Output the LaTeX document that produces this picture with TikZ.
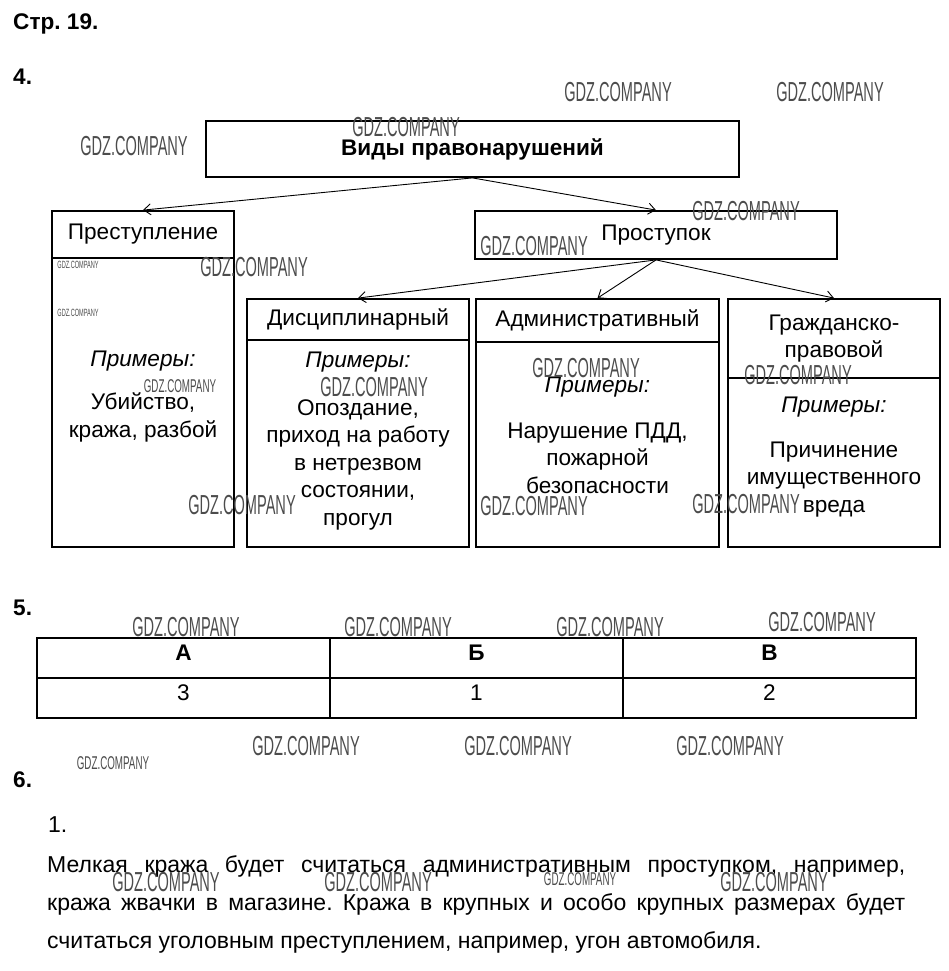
\documentclass[tikz,border=0pt]{standalone}
\usepackage{fontspec}
\setmainfont{Liberation Sans}
\newfontfamily\wmfont[FakeStretch=0.53]{Liberation Sans}
\usetikzlibrary{arrows.meta}
\newcommand{\txtsize}{\fontsize{22.6}{27.5}\selectfont}
\newcommand{\parsize}{\fontsize{23}{38}\selectfont}
\frenchspacing

\begin{document}
\begin{tikzpicture}[
  x=1pt,y=-1pt,
  >={Straight Barb[length=7pt,width=11pt]},
  txt/.style={font=\txtsize,inner sep=0pt},
  hd/.style={font=\txtsize\bfseries,inner sep=0pt,anchor=base west},
  box/.style={draw,line width=1.8pt,inner sep=0pt,align=center,font=\txtsize},
  prim/.style={font=\txtsize\itshape,inner sep=0pt,anchor=base},
  ex/.style={txt,align=center,anchor=base},
  arr/.style={->,line width=0.9pt},
  cell/.style={draw,line width=1.1pt,inner sep=0pt,minimum width=293,
               minimum height=40,font=\txtsize,text height=15pt,text depth=11pt},
  line/.style={font=\parsize,inner sep=0pt,anchor=base west},
  wm/.style={font=\wmfont\fontsize{27.5}{27.5}\selectfont,inner sep=0pt,text=black!70},
  wmmid/.style={wm,font=\wmfont\fontsize{18.5}{18.5}\selectfont},
  wmsmall/.style={wm,font=\wmfont\fontsize{10.5}{10.5}\selectfont},
]
\useasboundingbox (0,0) rectangle (949,971);

%% ── Headings ───────────────────────────────────────────────────────────────
\node[hd] (page) at (13,30) {Стр. 19.};
\node[hd] (task4) at (13,85) {4.};

%% ── Top box ───────────────────────────────────────────────────────────────
\node[box,minimum width=533,minimum height=56,font=\txtsize\bfseries] (vidy)
  at (472.5,149) {Виды правонарушений};

%% ── Second row ────────────────────────────────────────────────────────────
\node[box,minimum width=182,minimum height=47] (prest) at (143,234.5) {Преступление};
\node[box,minimum width=182,minimum height=289] (prestbody) at (143,402.5) {};
\node[box,minimum width=362,minimum height=48] (prost) at (656,235) {Проступок};

%% ── Kinds of misdemeanour ─────────────────────────────────────────────────
\node[box,minimum width=222,minimum height=41] (disc) at (358,319.5) {Дисциплинарный};
\node[box,minimum width=222,minimum height=207] (discbody) at (358,443.5) {};
\node[box,minimum width=243,minimum height=43] (admin) at (597.5,320.5) {Административный};
\node[box,minimum width=243,minimum height=205] (adminbody) at (597.5,444.5) {};
\node[box,minimum width=212,minimum height=79] (grazh) at (834,338.5)
  {Гражданско-\\правовой};
\node[box,minimum width=212,minimum height=169] (grazhbody) at (834,462.5) {};

%% ── Examples (base = last line) ───────────────────────────────────────────
\node[prim] (prim1) at (143,366) {Примеры:};
\node[ex] (ex1) at (143,437) {Убийство,\\кража, разбой};
\node[prim] (prim2) at (358,367) {Примеры:};
\node[ex] (ex2) at (358,525)
  {Опоздание,\\приход на работу\\в нетрезвом\\состоянии,\\прогул};
\node[prim] (prim3) at (597.5,392) {Примеры:};
\node[ex] (ex3) at (597.5,493) {Нарушение ПДД,\\пожарной\\безопасности};
\node[prim] (prim4) at (834,412) {Примеры:};
\node[ex] (ex4) at (834,512) {Причинение\\имущественного\\вреда};

%% ── Arrows ────────────────────────────────────────────────────────────────
\draw[arr] (vidy.south) -- (prest.north);
\draw[arr] (vidy.south) -- (prost.north);
\draw[arr] (prost.south) -- (disc.north);
\draw[arr] (prost.south) -- (admin.north);
\draw[arr] (prost.south) -- (grazh.north);

%% ── Task 5: table ─────────────────────────────────────────────────────────
\node[hd] (task5) at (13,615) {5.};
\node[cell,font=\txtsize\bfseries] (headA) at (183.5,658) {А};
\node[cell,font=\txtsize\bfseries] (headB) at (476.5,658) {Б};
\node[cell,font=\txtsize\bfseries] (headV) at (769.5,658) {В};
\node[cell] (valA) at (183.5,698) {3};
\node[cell] (valB) at (476.5,698) {1};
\node[cell] (valV) at (769.5,698) {2};

%% ── Task 6 ────────────────────────────────────────────────────────────────
\node[hd] (task6) at (13,787) {6.};
\node[line] (item1) at (48,832) {1.};
\node[line] (par1) at (47,872)
  {\makebox[858pt][s]{Мелкая кража будет считаться административным проступком, например,}};
\node[line] (par2) at (47,910)
  {\makebox[858pt][s]{кража жвачки в магазине. Кража в крупных и особо крупных размерах будет}};
\node[line] (par3) at (47,948)
  {считаться уголовным преступлением, например, угон автомобиля.};

%% ── Watermarks ────────────────────────────────────────────────────────────
\node[wm] (wm1) at (618,92) {GDZ.COMPANY};
\node[wm] (wm2) at (830,92) {GDZ.COMPANY};
\node[wm] (wm3) at (134,146) {GDZ.COMPANY};
\node[wm] (wm4) at (406,127) {GDZ.COMPANY};
\node[wm] (wm5) at (746,211) {GDZ.COMPANY};
\node[wm] (wm6) at (534,246) {GDZ.COMPANY};
\node[wm] (wm7) at (254,267) {GDZ.COMPANY};
\node[wmsmall] (wm8) at (78,265) {GDZ.COMPANY};
\node[wmsmall] (wm9) at (78,313) {GDZ.COMPANY};
\node[wmmid] (wm10) at (180,386) {GDZ.COMPANY};
\node[wm] (wm11) at (374,387) {GDZ.COMPANY};
\node[wm] (wm12) at (242,505) {GDZ.COMPANY};
\node[wm] (wm13) at (586,368) {GDZ.COMPANY};
\node[wm] (wm14) at (534,506) {GDZ.COMPANY};
\node[wm] (wm15) at (798,375) {GDZ.COMPANY};
\node[wm] (wm16) at (746,504) {GDZ.COMPANY};
\node[wm] (wm17) at (186,627) {GDZ.COMPANY};
\node[wm] (wm18) at (398,627) {GDZ.COMPANY};
\node[wm] (wm19) at (610,627) {GDZ.COMPANY};
\node[wm] (wm20) at (822,622) {GDZ.COMPANY};
\node[wm] (wm21) at (306,746) {GDZ.COMPANY};
\node[wm] (wm22) at (518,746) {GDZ.COMPANY};
\node[wm] (wm23) at (730,746) {GDZ.COMPANY};
\node[wmmid] (wm24) at (113,763) {GDZ.COMPANY};
\node[wm] (wm25) at (166,882) {GDZ.COMPANY};
\node[wm] (wm26) at (378,882) {GDZ.COMPANY};
\node[wmmid] (wm27) at (580,879) {GDZ.COMPANY};
\node[wm] (wm28) at (774,882) {GDZ.COMPANY};

\end{tikzpicture}
\end{document}
